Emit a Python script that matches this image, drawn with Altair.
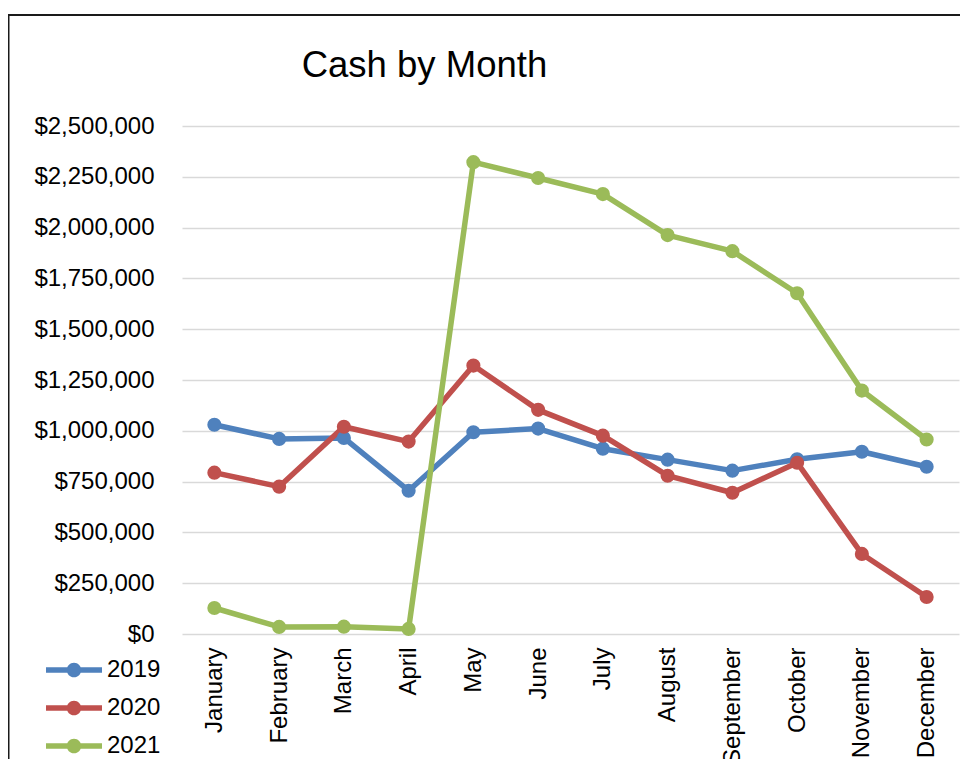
import altair as alt
import pandas as pd

months = ["January", "February", "March", "April", "May", "June", "July",
          "August", "September", "October", "November", "December"]
years = ["2019", "2020", "2021"]
cash_2019 = [1030000, 960000, 965000, 705000, 993000, 1011000, 912000,
             858000, 804000, 860000, 897000, 823000]
cash_2020 = [794000, 725000, 1020000, 947000, 1321000, 1103000, 976000,
             779000, 695000, 843000, 394000, 182000]
cash_2021 = [128000, 35000, 36000, 25000, 2322000, 2244000, 2165000,
             1963000, 1884000, 1677000, 1198000, 957000]
colors = ["#4F81BD", "#C0504D", "#9BBB59"]
y_ticks = [0, 250000, 500000, 750000, 1000000, 1250000, 1500000,
           1750000, 2000000, 2250000, 2500000]
title_text = "Cash by Month"

rows = []
for yr, vals in zip(years, [cash_2019, cash_2020, cash_2021]):
    for m, v in zip(months, vals):
        rows.append({"Month": m, "Year": yr, "Cash": v})
df = pd.DataFrame(rows)

FONT = "Liberation Sans"
W, H = 777, 508

x_enc = alt.X("Month:N", sort=months, title=None,
              scale=alt.Scale(type="point", padding=0.5),
              axis=alt.Axis(labelAngle=-90, labelFontSize=24, labelFont=FONT,
                            labelColor="black", labelPadding=13, ticks=False,
                            domain=False, grid=False))
y_enc = alt.Y("Cash:Q", title=None,
              scale=alt.Scale(domain=[0, 2500000], nice=False),
              axis=alt.Axis(values=y_ticks, format="$,.0f", labelFontSize=24,
                            labelFont=FONT, labelColor="black", labelPadding=28,
                            ticks=False, domain=False, grid=True,
                            gridColor="#D9D9D9", gridWidth=1.5))
color_scale = alt.Scale(domain=years, range=colors)

LEG_PATH = ("M-2,-0.2L2,-0.2L2,0.2L-2,0.2Z"
            "M0.52,0A0.52,0.52,0,1,1,-0.52,0A0.52,0.52,0,1,1,0.52,0Z")

lines = alt.Chart(df).mark_line(strokeWidth=5.5, strokeJoin="round").encode(
    x=x_enc, y=y_enc,
    color=alt.Color("Year:N", scale=color_scale,
                    legend=alt.Legend(title=None, orient="none",
                                      legendX=-122, legendY=530,
                                      symbolType=LEG_PATH, symbolSize=784,
                                      symbolStrokeWidth=0, symbolOpacity=1,
                                      labelFontSize=24, labelFont=FONT,
                                      labelColor="black", labelOffset=19,
                                      rowPadding=12, padding=0)),
    detail="Year:N",
)
points = alt.Chart(df).mark_point(filled=True, size=200, opacity=1,
                                  strokeWidth=0).encode(
    x=x_enc, y=y_enc,
    fill=alt.Fill("Year:N", scale=color_scale, legend=None),
)

title_df = pd.DataFrame({"t": [title_text]})
title = alt.Chart(title_df).mark_text(
    font=FONT, fontSize=36.5, align="left", baseline="alphabetic",
    color="black").encode(
    text="t:N", x=alt.value(119.7), y=alt.value(-49.3))

frame_df = pd.DataFrame({"k": [1]})
frame = alt.Chart(frame_df).mark_rect(
    fill=None, stroke="#1a1a1a", strokeWidth=2).encode(
    x=alt.value(-173.5), x2=alt.value(820),
    y=alt.value(-111), y2=alt.value(720))

chart = alt.layer(frame, lines, points, title).properties(
    width=W, height=H,
    autosize=alt.AutoSizeParams(type="none"),
    padding={"left": 174, "top": 118, "right": 1, "bottom": 125},
).configure_view(stroke=None)

chart.save("out.html", embed_options={"renderer": "svg", "actions": False})
